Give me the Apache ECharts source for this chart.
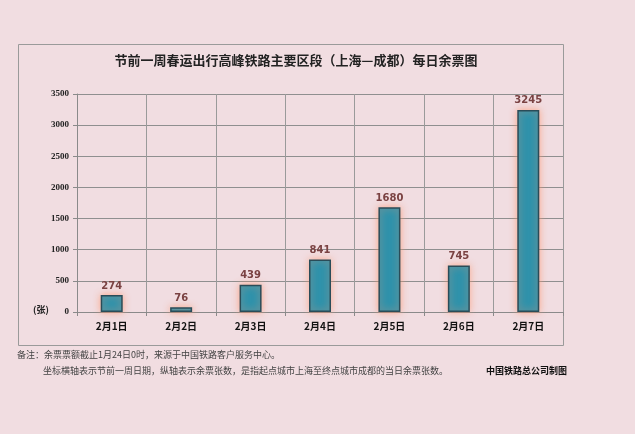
<!DOCTYPE html>
<html>
<head>
<meta charset="utf-8">
<script src="https://cdn.jsdelivr.net/npm/echarts@6/dist/echarts.min.js"></script>
<style>
html, body { margin: 0; padding: 0; background: #f1dde1; }
#main { width: 635px; height: 434px; }
</style>
</head>
<body>
<div id="main"></div>
<script>
var days = ['2月1日', '2月2日', '2月3日', '2月4日', '2月5日', '2月6日', '2月7日'];
var tickets = [274, 76, 439, 841, 1680, 745, 3245];

var myChart = echarts.init(document.getElementById('main'));
var cjk = '"Noto Sans CJK SC", sans-serif';
var option = {
    backgroundColor: '#f1dde1',
    title: {
        text: '节前一周春运出行高峰铁路主要区段（上海—成都）每日余票图',
        left: 291,
        top: 49,
        textAlign: 'center',
        textStyle: { fontFamily: cjk, fontSize: 13, fontWeight: 'bold', color: '#222' }
    },
    grid: { left: 77, right: 72, top: 94, bottom: 122 },
    xAxis: {
        type: 'category',
        data: days,
        axisLine: { lineStyle: { color: '#8a8a8a', width: 1 } },
        axisTick: { show: true, length: 4, lineStyle: { color: '#8a8a8a' } },
        splitLine: { show: true, lineStyle: { color: '#9a9a9a', width: 1 } },
        axisLabel: { fontFamily: cjk, fontSize: 10, fontWeight: 'bold', color: '#111', margin: 9 }
    },
    yAxis: {
        type: 'value',
        min: 0,
        max: 3500,
        interval: 500,
        axisLine: { show: true, lineStyle: { color: '#8a8a8a' } },
        axisTick: { show: true, length: 4, lineStyle: { color: '#8a8a8a' } },
        splitLine: { lineStyle: { color: '#8f8f8f', width: 1 } },
        axisLabel: {
            formatter: function (v) { return String(v); },
            fontFamily: '"Liberation Serif", serif', fontSize: 9, fontWeight: 'bold', color: '#222', margin: 8
        }
    },
    series: [{
        type: 'bar',
        data: tickets,
        barWidth: 22,
        itemStyle: {
            color: '#2f92ab',
            borderColor: '#2a4c58',
            borderWidth: 1.5,
            shadowBlur: 7,
            shadowColor: 'rgba(255,150,110,0.75)'
        },
        label: {
            show: true,
            position: 'top',
            distance: 4,
            fontFamily: '"DejaVu Sans", sans-serif',
            fontSize: 10,
            fontWeight: 'bold',
            color: '#7a4242'
        }
    }],
    graphic: [
        {
            type: 'rect',
            shape: { x: 18.5, y: 44.5, width: 545, height: 301 },
            style: { fill: null, stroke: '#9a9a9a', lineWidth: 1 },
            z: 0
        },
        {
            type: 'text',
            left: 33, top: 305,
            style: { text: '(张)', font: 'bold 9px "Noto Sans CJK SC"', fill: '#222' }
        },
        {
            type: 'text',
            left: 17, top: 350,
            style: { text: '备注：余票票额截止1月24日0时，来源于中国铁路客户服务中心。', font: '9px "Noto Sans CJK SC"', fill: '#444' }
        },
        {
            type: 'text',
            left: 43, top: 366,
            style: { text: '坐标横轴表示节前一周日期，纵轴表示余票张数，是指起点城市上海至终点城市成都的当日余票张数。', font: '9px "Noto Sans CJK SC"', fill: '#444' }
        },
        {
            type: 'text',
            left: 486, top: 366,
            style: { text: '中国铁路总公司制图', font: 'bold 9px "Noto Sans CJK SC"', fill: '#111' }
        }
    ]
};
myChart.setOption(option);
</script>
</body>
</html>
